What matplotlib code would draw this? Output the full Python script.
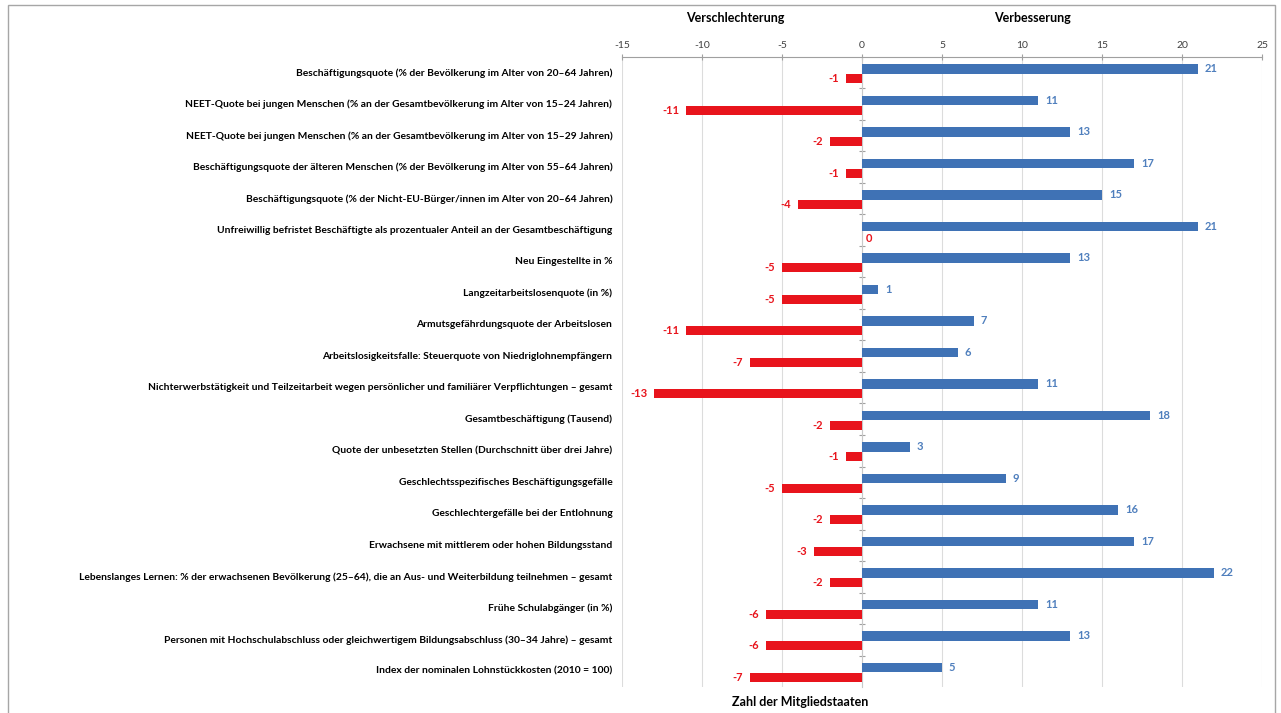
"""Zahl der Mitgliedstaaten mit Verbesserung / Verschlechterung je Indikator."""

import matplotlib
matplotlib.use("Agg")
import matplotlib.pyplot as plt
from matplotlib.patches import Rectangle

plt.rcParams["font.family"] = ["Lato", "DejaVu Sans"]
plt.rcParams["axes.unicode_minus"] = False

LABELS = [
    "Beschäftigungsquote (% der Bevölkerung im Alter von 20–64 Jahren)",
    "NEET-Quote bei jungen Menschen (% an der Gesamtbevölkerung im Alter von 15–24 Jahren)",
    "NEET-Quote bei jungen Menschen (% an der Gesamtbevölkerung im Alter von 15–29 Jahren)",
    "Beschäftigungsquote der älteren Menschen (% der Bevölkerung im Alter von 55–64 Jahren)",
    "Beschäftigungsquote (% der Nicht-EU-Bürger/innen im Alter von 20–64 Jahren)",
    "Unfreiwillig befristet Beschäftigte als prozentualer Anteil an der Gesamtbeschäftigung",
    "Neu Eingestellte in %",
    "Langzeitarbeitslosenquote (in %)",
    "Armutsgefährdungsquote der Arbeitslosen",
    "Arbeitslosigkeitsfalle: Steuerquote von Niedriglohnempfängern",
    "Nichterwerbstätigkeit und Teilzeitarbeit wegen persönlicher und familiärer Verpflichtungen – gesamt",
    "Gesamtbeschäftigung (Tausend)",
    "Quote der unbesetzten Stellen (Durchschnitt über drei Jahre)",
    "Geschlechtsspezifisches Beschäftigungsgefälle",
    "Geschlechtergefälle bei der Entlohnung",
    "Erwachsene mit mittlerem oder hohen Bildungsstand",
    "Lebenslanges Lernen: % der erwachsenen Bevölkerung (25–64), die an Aus- und Weiterbildung teilnehmen – gesamt",
    "Frühe Schulabgänger (in %)",
    "Personen mit Hochschulabschluss oder gleichwertigem Bildungsabschluss (30–34 Jahre) – gesamt",
    "Index der nominalen Lohnstückkosten (2010 = 100)",
]
verbesserung = [21, 11, 13, 17, 15, 21, 13, 1, 7, 6, 11, 18, 3, 9, 16, 17, 22, 11, 13, 5]
verschlechterung = [-1, -11, -2, -1, -4, 0, -5, -5, -11, -7, -13, -2, -1, -5, -2, -3, -2, -6, -6, -7]
XTICKS = [-15, -10, -5, 0, 5, 10, 15, 20, 25]

BLUE = "#3f72b5"
RED = "#e8141c"
BLUE_TXT = "#4f7fbd"

fig = plt.figure(figsize=(12.81, 7.13), dpi=100)
ax = fig.add_axes([622 / 1281, 1 - 687 / 713, 640 / 1281, 630 / 713])

n = len(LABELS)
pos = list(range(n))
h = 0.3
ax.barh([p - 0.12 for p in pos], verbesserung, height=h, color=BLUE, zorder=3)
ax.barh([p + 0.19 for p in pos], verschlechterung, height=h, color=RED, zorder=3)

for p, v in zip(pos, verbesserung):
    ax.annotate(str(v), (v, p - 0.12), xytext=(5, 0), textcoords="offset points",
                ha="left", va="center", color=BLUE_TXT, fontsize=8, fontweight="bold")
for p, v in zip(pos, verschlechterung):
    if v == 0:
        ax.annotate(str(v), (v, p + 0.27), xytext=(3, 0), textcoords="offset points",
                    ha="left", va="center", color=RED, fontsize=8, fontweight="bold")
    else:
        ax.annotate(str(v), (v, p + 0.19), xytext=(-5, 0), textcoords="offset points",
                    ha="right", va="center", color=RED, fontsize=8, fontweight="bold")

for p, lab in zip(pos, LABELS):
    ax.annotate(lab, (0, p), xycoords=("axes fraction", "data"), xytext=(-7, 0),
                textcoords="offset points", ha="right", va="center",
                fontsize=7.35, fontweight="bold", color="black")

ax.set_xlim(-15, 25)
ax.set_ylim(n - 0.5, -0.5)
ax.set_xticks(XTICKS)
ax.xaxis.tick_top()
ax.tick_params(axis="x", colors="#a0a0a0", labelcolor="#404040", labelsize=7.5,
               length=4, direction="inout", pad=3)
ax.grid(axis="x", color="#dcdcdc", linewidth=0.8, zorder=0)

ax.set_yticks([p + 0.5 for p in pos[:-1]])
ax.set_yticklabels([])
ax.tick_params(axis="y", colors="#a0a0a0", length=4, direction="inout")
ax.spines["left"].set_position(("data", 0))
ax.spines["left"].set_color("#c8c8c8")
ax.spines["top"].set_color("#a0a0a0")
ax.spines["right"].set_visible(False)
ax.spines["bottom"].set_visible(False)

fig.text(735 / 1281, 1 - 18 / 713, "Verschlechterung", ha="center", va="center",
         fontsize=9, fontweight="bold")
fig.text(1032 / 1281, 1 - 18 / 713, "Verbesserung", ha="center", va="center",
         fontsize=9, fontweight="bold")
fig.text(800 / 1281, 1 - 702 / 713, "Zahl der Mitgliedstaaten", ha="center", va="center",
         fontsize=9, fontweight="bold")

fig.patches.append(Rectangle((8 / 1281, -0.02), 1267 / 1281, 1.02 - 5 / 713,
                             transform=fig.transFigure, fill=False,
                             edgecolor="#a6a6a6", linewidth=1))

fig.savefig("out.png", dpi=100)
